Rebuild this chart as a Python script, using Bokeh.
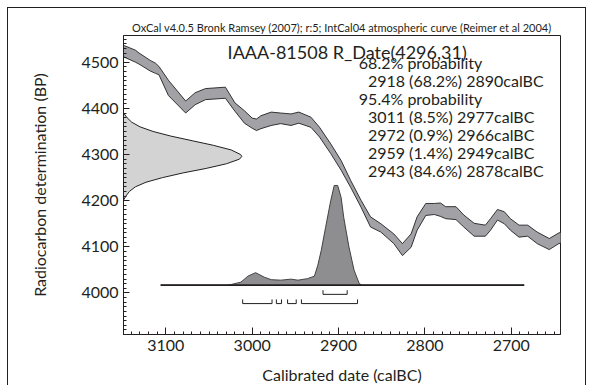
from bokeh.plotting import figure
from bokeh.models import Range1d, SingleIntervalTicker, Label
from bokeh.embed import file_html
from bokeh.resources import INLINE

# ---------------- data ----------------
# IntCal04 calibration curve band (years BC, upper / lower BP edge)
curve_years = [3155, 3148, 3135, 3131, 3118, 3112, 3108, 3097, 3077, 3066, 3054, 3031,
               3020, 3009, 3000, 2995, 2990, 2978, 2967, 2955, 2946, 2932, 2922, 2909,
               2897, 2886, 2874, 2863, 2851, 2836, 2826, 2816, 2809, 2799, 2789, 2782,
               2776, 2764, 2755, 2743, 2730, 2724, 2716, 2708, 2701, 2691, 2681, 2670,
               2656, 2645, 2638]
curve_hi = [4541, 4536, 4526, 4520, 4504, 4498, 4491, 4461, 4416, 4434, 4443, 4446,
            4412, 4395, 4379, 4377, 4384, 4392, 4390, 4388, 4392, 4381, 4359, 4323,
            4287, 4244, 4201, 4165, 4150, 4128, 4107, 4128, 4165, 4194, 4194, 4195,
            4187, 4187, 4169, 4151, 4147, 4161, 4181, 4176, 4161, 4147, 4147, 4132,
            4118, 4130, 4134]
curve_lo = [4515, 4511, 4500, 4496, 4481, 4476, 4473, 4428, 4390, 4408, 4419, 4422,
            4394, 4368, 4357, 4352, 4356, 4363, 4367, 4363, 4368, 4359, 4338, 4302,
            4266, 4229, 4186, 4143, 4132, 4107, 4081, 4099, 4136, 4168, 4170, 4166,
            4161, 4159, 4143, 4123, 4123, 4136, 4158, 4150, 4136, 4121, 4123, 4107,
            4094, 4107, 4111]

# Radiocarbon date 4296 +/- 31 BP: relative probability read along the BP axis
rdate_bp = [4201, 4210, 4220, 4230, 4240, 4250, 4260, 4270, 4280, 4290, 4296,
            4300, 4310, 4320, 4330, 4340, 4350, 4360, 4370, 4380, 4390]
rdate_prob = [0.0, 0.02, 0.05, 0.10, 0.19, 0.33, 0.50, 0.70, 0.87, 0.98, 1.00,
              0.99, 0.91, 0.76, 0.58, 0.40, 0.25, 0.14, 0.07, 0.03, 0.0]

# Calibrated date distribution (years BC, relative probability)
dist_years = [3106, 3030, 3025, 3013, 3005, 2996, 2986, 2978, 2967, 2955, 2947, 2936,
              2928, 2924, 2920, 2915, 2909, 2905, 2901, 2897, 2894, 2888, 2882, 2876,
              2873, 2685]
dist_prob = [0.0, 0.0, 0.005, 0.03, 0.09, 0.125, 0.08, 0.055, 0.05, 0.06, 0.05, 0.065,
             0.09, 0.20, 0.35, 0.58, 0.85, 1.0, 1.0, 0.88, 0.68, 0.385, 0.15, 0.015,
             0.0, 0.0]

# Highest probability density ranges
range68 = [(2918, 2890)]
range95 = [(3011, 2977), (2972, 2966), (2959, 2949), (2943, 2878)]

header_text = "OxCal v4.0.5 Bronk Ramsey (2007); r:5; IntCal04 atmospheric curve (Reimer et al 2004)"
title_text = "IAAA-81508 R_Date(4296,31)"
prob_lines = ["68.2% probability",
              "2918 (68.2%) 2890calBC",
              "95.4% probability",
              "3011 (8.5%) 2977calBC",
              "2972 (0.9%) 2966calBC",
              "2959 (1.4%) 2949calBC",
              "2943 (84.6%) 2878calBC"]
prob_indent = [0, 1, 0, 1, 1, 1, 1]

# ---------------- layout / style ----------------
X0, X1 = 3149, 2643
Y0, Y1 = 3910, 4558
FONT = "Lato"
INK = "#231f20"
BASE = 4017          # baseline of calibrated distribution (BP units)
DIST_H = 216         # height of distribution peak (BP units)
RDATE_W = 137        # width of the radiocarbon date peak (years)

p = figure(width=579, height=378, x_range=Range1d(X0, X1), y_range=Range1d(Y0, Y1),
           output_backend="svg", toolbar_location=None,
           min_border_left=115, min_border_right=27, min_border_top=27,
           min_border_bottom=52)
p.styles = {"margin": "7px 0px 0px 7px",
            "border-top": "1px solid #231f20", "border-left": "1px solid #231f20",
            "border-right": "1px solid #231f20"}
p.grid.visible = False
p.outline_line_color = INK
p.outline_line_width = 1
p.background_fill_color = "white"
p.border_fill_color = "white"

p.title.text = header_text
p.title.align = "center"
p.title.text_font = FONT
p.title.text_font_size = "11px"
p.title.text_font_style = "normal"
p.title.text_color = INK
p.title.standoff = 3

for ax in (p.xaxis[0], p.yaxis[0]):
    ax.ticker = SingleIntervalTicker(interval=100, num_minor_ticks=10)
    ax.axis_line_color = INK
    ax.major_tick_line_color = INK
    ax.minor_tick_line_color = INK
    ax.major_tick_out = 0
    ax.minor_tick_out = 0
    ax.minor_tick_in = 3
    ax.major_label_text_font = FONT
    ax.major_label_text_font_size = "16px"
    ax.major_label_text_color = INK
    ax.axis_label_text_font = FONT
    ax.axis_label_text_font_size = "16px"
    ax.axis_label_text_font_style = "normal"
    ax.axis_label_text_color = INK

p.xaxis.major_tick_in = 7
p.yaxis.major_tick_in = 6
p.xaxis.major_label_standoff = 5
p.yaxis.major_label_standoff = 5
p.xaxis.axis_label = "Calibrated date (calBC)"
p.yaxis.axis_label = "Radiocarbon determination (BP)"
p.xaxis.axis_label_standoff = 11
p.yaxis.axis_label_standoff = 29

# calibration curve band
p.varea(x=curve_years, y1=curve_lo, y2=curve_hi, fill_color="#a2a2a6")
p.line(curve_years, curve_hi, line_color=INK, line_width=0.9)
p.line(curve_years, curve_lo, line_color=INK, line_width=0.9)

# radiocarbon date distribution on the y axis
rx = [X0 - v * RDATE_W for v in rdate_prob]
p.harea(y=rdate_bp, x1=[X0] * len(rdate_bp), x2=rx, fill_color="#d3d3d3")
p.line(rx, rdate_bp, line_color=INK, line_width=1)

# calibrated distribution
dy = [BASE + v * DIST_H for v in dist_prob]
p.varea(x=dist_years, y1=[BASE] * len(dist_years), y2=dy, fill_color="#8e8e90")
p.line(dist_years, dy, line_color="#333333", line_width=0.9)
p.segment(x0=[dist_years[0]], y0=[BASE], x1=[dist_years[-1]], y1=[BASE],
          line_color=INK, line_width=1.8)

# probability range brackets
def brackets(ranges, ylow, yhigh):
    xs, ys = [], []
    for a, b in ranges:
        xs.append([a, a, b, b])
        ys.append([yhigh, ylow, ylow, yhigh])
    p.multi_line(xs, ys, line_color=INK, line_width=1)

brackets(range68, 3997, 4006)
brackets(range95, 3977, 3986)

# texts inside the frame
p.add_layout(Label(x=2890, y=4523, text=title_text, text_font=FONT, text_font_size="18px",
                   text_color=INK, text_align="center", text_baseline="middle"))
for i, (t, ind) in enumerate(zip(prob_lines, prob_indent)):
    p.add_layout(Label(x=2876.5 - 10.5 * ind, y=4500 - 39 * i, text=t, text_font=FONT,
                       text_font_size="16px", text_color=INK, text_align="left",
                       text_baseline="middle"))

open("out.html", "w").write(file_html(p, INLINE))
